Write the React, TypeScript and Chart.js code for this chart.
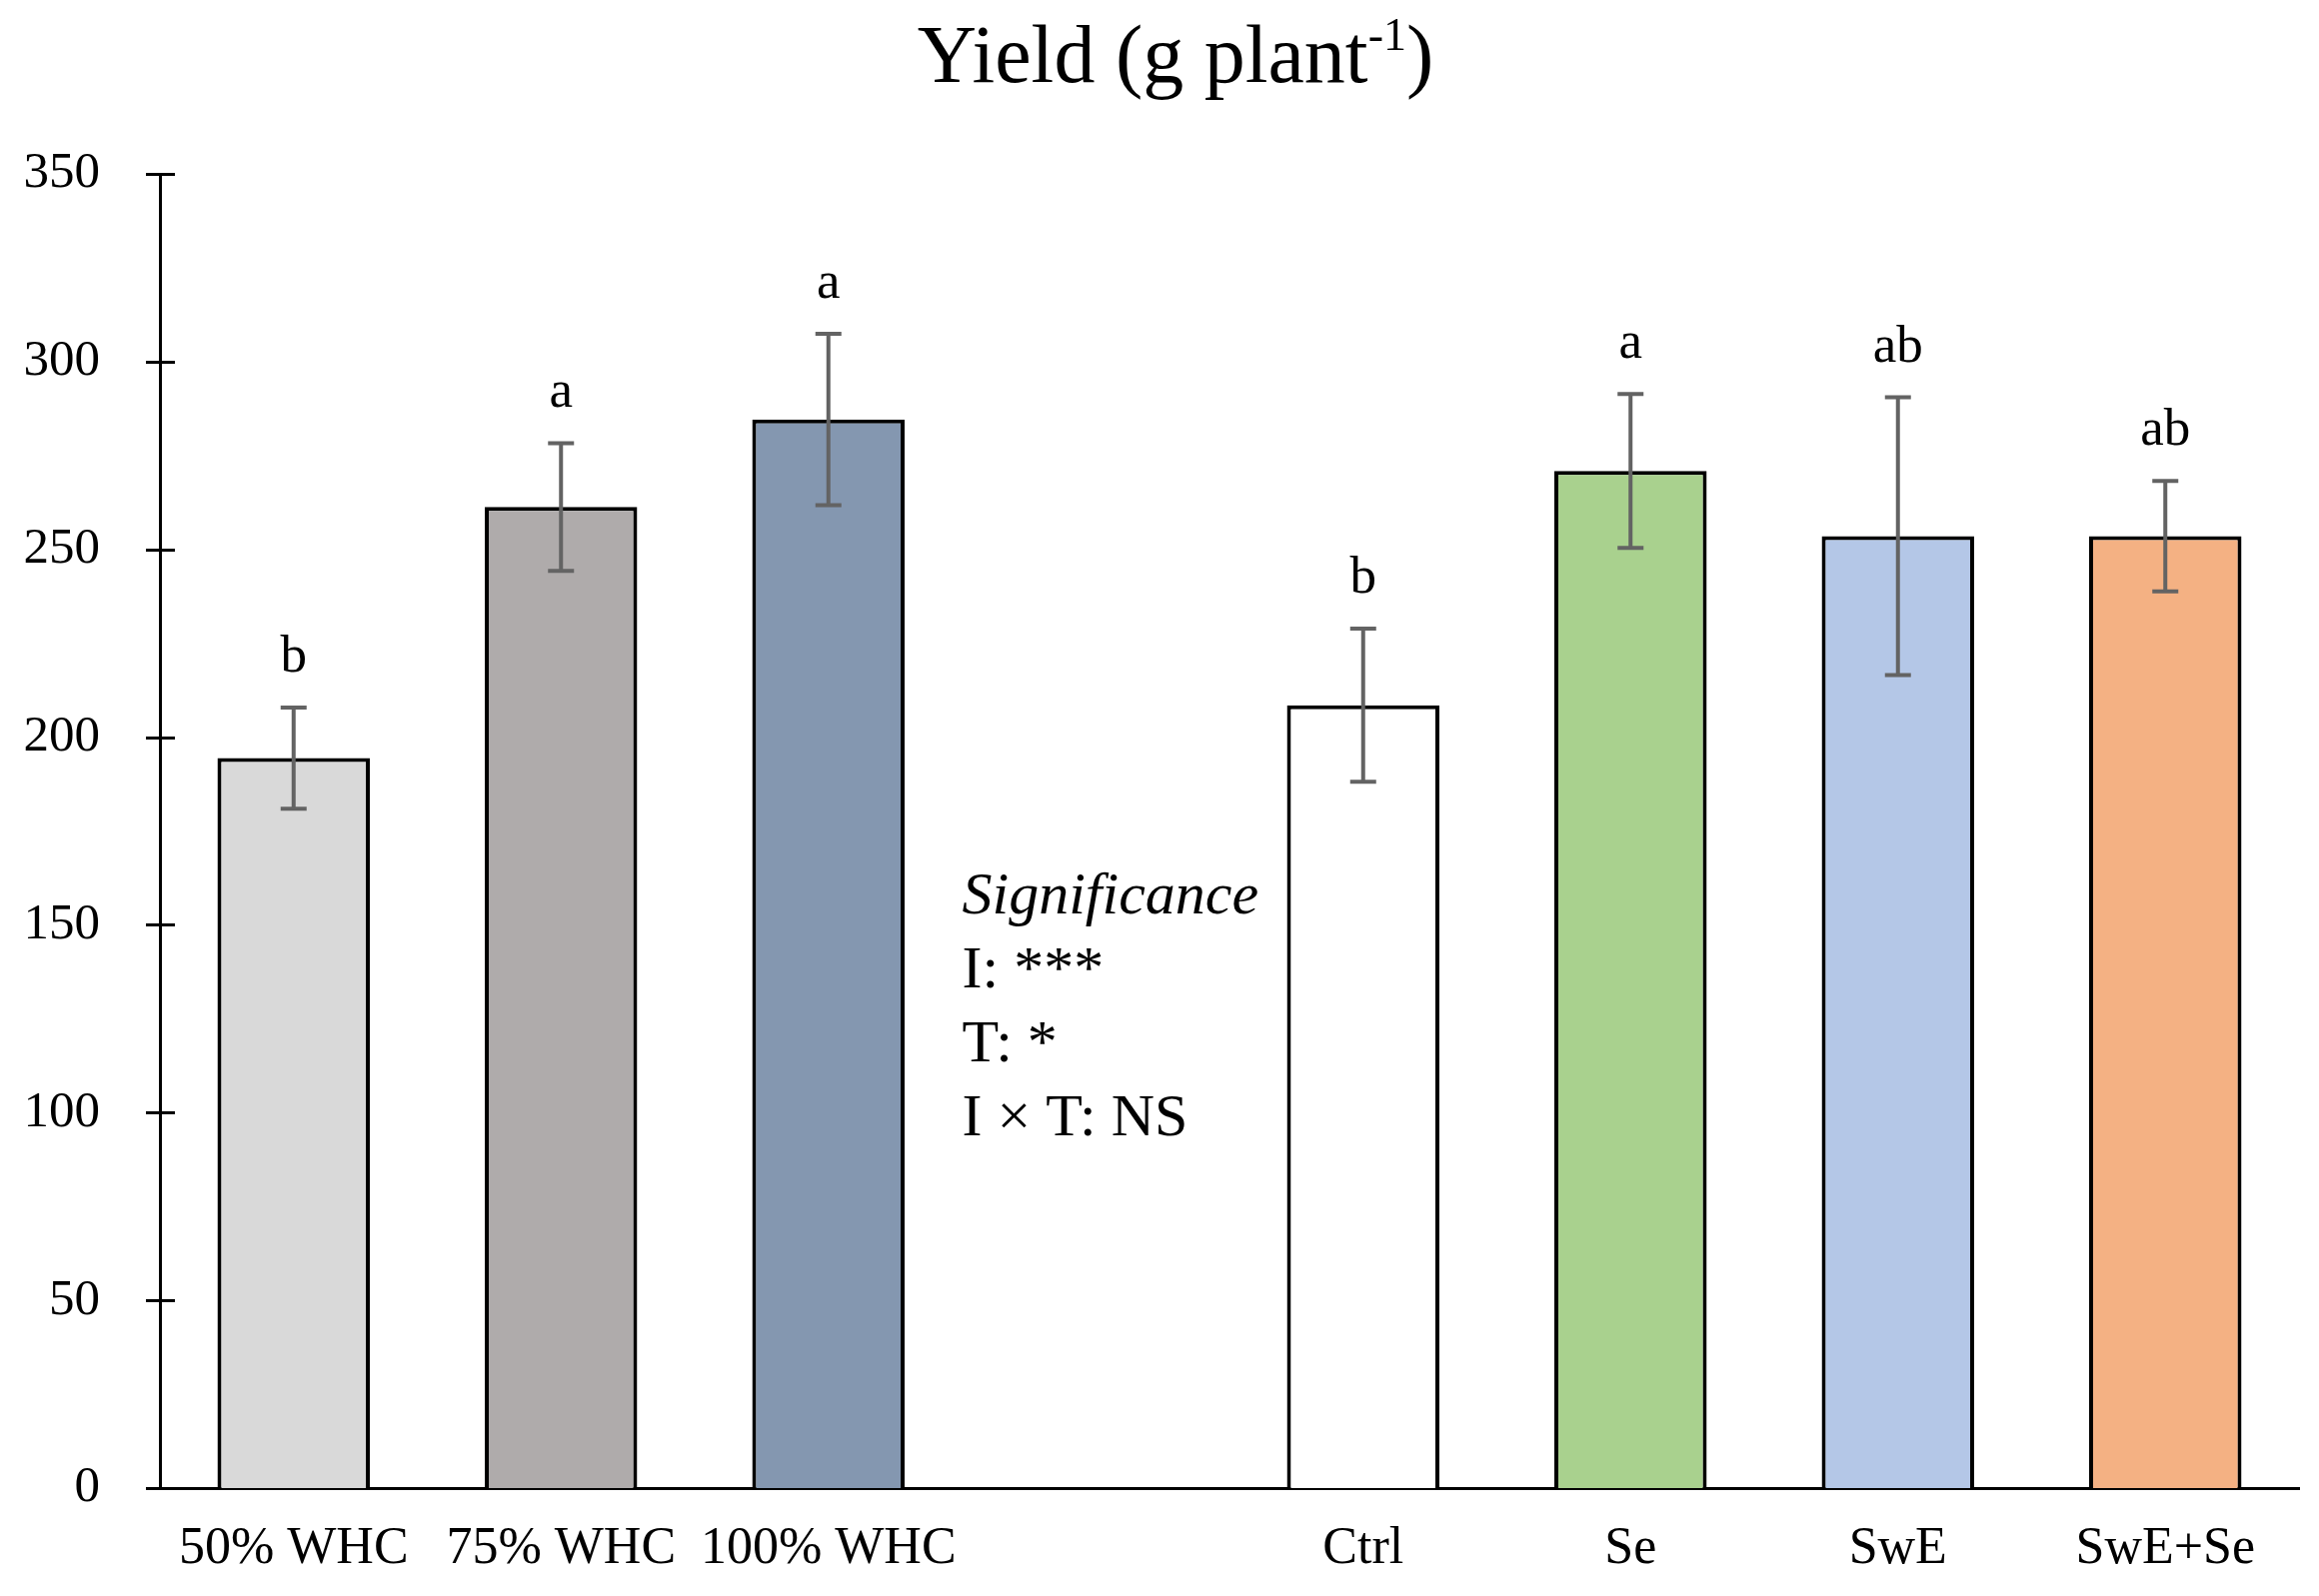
import React, { useEffect, useRef } from 'react';
import { Chart, registerables, Plugin } from 'chart.js';

Chart.register(...registerables);

// categories (the empty one separates the two factors)
const categories = ['50% WHC', '75% WHC', '100% WHC', '', 'Ctrl', 'Se', 'SwE', 'SwE+Se'];
const yieldMeans = [194.4, 261.3, 284.6, null, 208.5, 270.9, 253.5, 253.5];
const yieldErrors = [13.5, 17, 22.8, null, 20.4, 20.5, 37, 14.7];
const letters = ['b', 'a', 'a', '', 'b', 'a', 'ab', 'ab'];
const barColors = ['#D9D9D9', '#AFABAB', '#8497B0', '#FFFFFF', '#FFFFFF', '#A9D18E', '#B4C7E7', '#F4B183'];
const yTicks = [0, 50, 100, 150, 200, 250, 300, 350];
const significanceLines = ['Significance', 'I: ***', 'T: *', 'I \u00d7 T: NS'];
const significanceTop = 153; // value at the first line's baseline

const FONT = '"Liberation Serif", "Times New Roman", serif';

const extrasPlugin: Plugin<'bar'> = {
  id: 'extras',
  afterDraw(chart) {
    const ctx = chart.ctx;
    const xs = chart.scales.x;
    const ys = chart.scales.y;
    const meta = chart.getDatasetMeta(0);

    ctx.save();
    // y tick marks crossing the axis
    ctx.strokeStyle = '#000';
    ctx.lineWidth = 3;
    yTicks.forEach((t) => {
      const py = Math.round(ys.getPixelForValue(t)) + 0.5;
      ctx.beginPath();
      ctx.moveTo(xs.left - 14, py);
      ctx.lineTo(xs.left + 15, py);
      ctx.stroke();
    });

    // error bars + letters
    meta.data.forEach((bar: any, i: number) => {
      const v = yieldMeans[i];
      const e = yieldErrors[i];
      if (v == null || e == null) return;
      const x = bar.x;
      const top = ys.getPixelForValue(v + e);
      const bot = ys.getPixelForValue(v - e);
      ctx.strokeStyle = '#636363';
      ctx.lineWidth = 4;
      ctx.beginPath();
      ctx.moveTo(x, top);
      ctx.lineTo(x, bot);
      ctx.moveTo(x - 13, top);
      ctx.lineTo(x + 13, top);
      ctx.moveTo(x - 13, bot);
      ctx.lineTo(x + 13, bot);
      ctx.stroke();

      ctx.fillStyle = '#000';
      ctx.font = `53px ${FONT}`;
      ctx.textAlign = 'center';
      ctx.textBaseline = 'alphabetic';
      ctx.fillText(letters[i], x, top - 36);
    });

    // significance block in the empty category
    const gapIdx = categories.indexOf('');
    const step = xs.getPixelForValue(1) - xs.getPixelForValue(0);
    const left = xs.getPixelForValue(gapIdx) - step / 2;
    let y = ys.getPixelForValue(significanceTop);
    ctx.fillStyle = '#000';
    ctx.textAlign = 'left';
    ctx.textBaseline = 'alphabetic';
    significanceLines.forEach((line, i) => {
      ctx.font = i === 0 ? `italic 60px ${FONT}` : `60px ${FONT}`;
      ctx.fillText(line, left, y);
      y += 74;
    });

    // title with superscript
    const main = 'Yield (g plant';
    const sup = '-1';
    const end = ')';
    ctx.font = `82px ${FONT}`;
    const wMain = ctx.measureText(main).width;
    const wEnd = ctx.measureText(end).width;
    ctx.font = `46px ${FONT}`;
    const wSup = ctx.measureText(sup).width;
    const total = wMain + wSup + wEnd;
    let tx = chart.width / 2 + 16 - total / 2;
    ctx.fillStyle = '#000';
    ctx.font = `82px ${FONT}`;
    ctx.fillText(main, tx, 82);
    tx += wMain;
    ctx.font = `46px ${FONT}`;
    ctx.fillText(sup, tx, 50);
    tx += wSup;
    ctx.font = `82px ${FONT}`;
    ctx.fillText(end, tx, 82);
    ctx.restore();
  },
};

const App = () => {
  const canvasRef = useRef<HTMLCanvasElement | null>(null);

  useEffect(() => {
    document.body.style.margin = '0';
    if (!canvasRef.current) return;
    const chart = new Chart(canvasRef.current, {
      type: 'bar',
      data: {
        labels: categories,
        datasets: [
          {
            label: 'Yield',
            data: yieldMeans,
            backgroundColor: barColors,
            borderColor: '#000',
            borderWidth: 4,
            borderSkipped: 'start',
            barPercentage: 0.57,
            categoryPercentage: 1,
          },
        ],
      },
      options: {
        animation: false,
        responsive: false,
        devicePixelRatio: 1,
        layout: { padding: { top: 174, right: 20, left: 0, bottom: 0 } },
        plugins: {
          legend: { display: false },
          title: { display: false },
          tooltip: { enabled: false },
        },
        scales: {
          x: {
            z: 1,
            grid: { display: false, drawTicks: false },
            border: { display: true, color: '#000', width: 3 },
            ticks: {
              color: '#000',
              font: { family: FONT, size: 52 },
              padding: 30,
              maxRotation: 0,
              autoSkip: false,
            },
            afterFit: (scale: any) => {
              scale.height = 108;
            },
          },
          y: {
            min: 0,
            max: 350,
            grid: { display: false, drawTicks: false },
            border: { display: true, color: '#000', width: 3 },
            ticks: {
              stepSize: 50,
              color: '#000',
              font: { family: FONT, size: 51 },
              padding: 60,
            },
            afterFit: (scale: any) => {
              scale.width = 160;
            },
          },
        },
      },
      plugins: [extrasPlugin],
    });
    return () => {
      chart.destroy();
    };
  }, []);

  return (
    <div style={{ width: 2320, height: 1597, overflow: 'hidden', background: '#fff' }}>
      <canvas ref={canvasRef} width={2320} height={1597} style={{ display: 'block' }}></canvas>
    </div>
  );
};

export default App;
